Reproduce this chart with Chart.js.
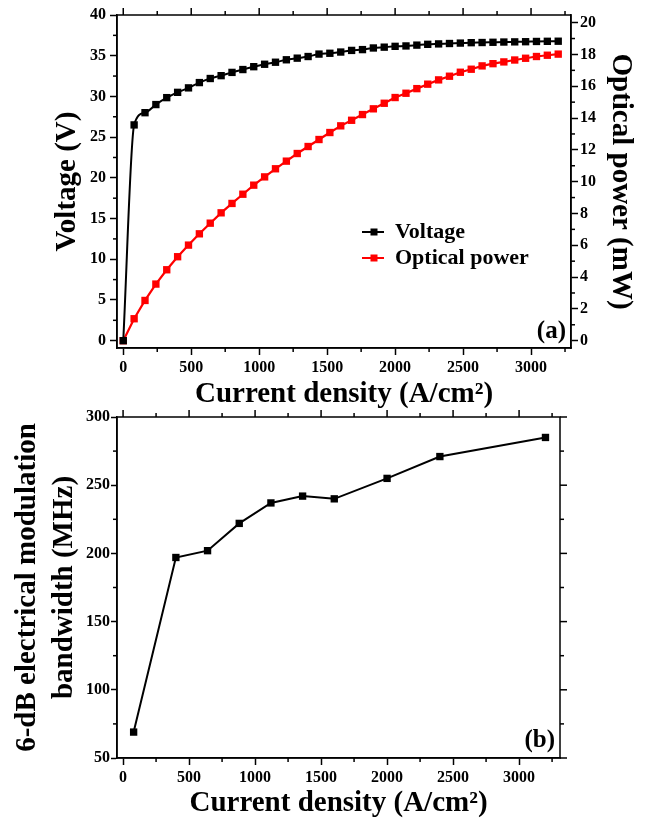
<!DOCTYPE html>
<html>
<head>
<meta charset="utf-8">
<script src="https://cdn.jsdelivr.net/npm/chart.js@4.4.0/dist/chart.umd.min.js"></script>
<style>
html,body{margin:0;padding:0;background:#fff;width:650px;height:821px;overflow:hidden}
#wrapA{position:absolute;left:0;top:0;width:650px;height:412px}
#wrapB{position:absolute;left:0;top:402px;width:650px;height:419px}
canvas{display:block}
</style>
</head>
<body>
<div id="wrapA"><canvas id="cA" width="650" height="412"></canvas></div>
<div id="wrapB"><canvas id="cB" width="650" height="419"></canvas></div>
<script>
// ---------- data ----------
const currentDensity = [0,80,160,240,320,400,480,560,640,720,800,880,960,1040,1120,1200,1280,1360,1440,1520,1600,1680,1760,1840,1920,2000,2080,2160,2240,2320,2400,2480,2560,2640,2720,2800,2880,2960,3040,3120,3200];
const voltage = [0,26.5,28.0,29.0,29.85,30.5,31.05,31.7,32.2,32.55,32.95,33.3,33.65,33.95,34.2,34.5,34.7,34.9,35.2,35.3,35.45,35.65,35.75,35.95,36.05,36.15,36.2,36.3,36.4,36.45,36.5,36.55,36.6,36.62,36.65,36.68,36.7,36.72,36.75,36.77,36.78];
const opticalPower = [0,1.38,2.53,3.56,4.46,5.28,6.01,6.72,7.39,8.04,8.63,9.21,9.78,10.3,10.81,11.29,11.77,12.21,12.65,13.09,13.51,13.86,14.22,14.58,14.93,15.29,15.56,15.85,16.13,16.4,16.63,16.88,17.07,17.28,17.42,17.53,17.65,17.76,17.87,17.95,18.02];
const bwCurrent = [80,400,640,880,1120,1360,1600,2000,2400,3200];
const bandwidth = [69,197,202,222,237,242,240,255,271,285];

const xTicks = [0,500,1000,1500,2000,2500,3000];
const voltageTicks = [0,5,10,15,20,25,30,35,40];
const powerTicks = [0,2,4,6,8,10,12,14,16,18,20];
const bwTicks = [50,100,150,200,250,300];

const labels = {
  x: 'Current density (A/cm\u00B2)',
  voltage: 'Voltage (V)',
  power: 'Optical power (mW)',
  bw: ['6-dB electrical modulation', 'bandwidth (MHz)'],
  series: ['Voltage', 'Optical power'],
  panelA: '(a)',
  panelB: '(b)'
};

// ---------- helpers ----------
const FAMILY = '"Liberation Serif", "Times New Roman", serif';
const tickFont = {family: FAMILY, weight: 'bold', size: 16};
const titleFont = {family: FAMILY, weight: 'bold', size: 29, lineHeight: 1.2};
const plainNumber = v => String(v);

function fixedTicks(values) {
  return function (scale) { scale.ticks = values.map(v => ({value: v})); };
}
function gridOpts(len) {
  return {display: true, drawOnChartArea: false, drawTicks: true, tickLength: len, tickWidth: 1.5, tickColor: '#000', color: '#000'};
}
const borderOpts = {display: true, color: '#000', width: 1.5};

// frame + minor / mirrored ticks, positioned through the chart's scales
const frameTicks = {
  id: 'frameTicks',
  afterDraw(chart, args, o) {
    const {ctx, chartArea: a} = chart;
    ctx.save();
    ctx.strokeStyle = '#000';
    ctx.lineWidth = 1.5;
    ctx.strokeRect(a.left, a.top, a.right - a.left, a.bottom - a.top);
    (o.axes || []).forEach(ax => {
      const s = chart.scales[ax.scale];
      const minors = [];
      ax.majors.forEach(v => {
        [v - ax.minorStep, v + ax.minorStep].forEach(m => {
          if (m >= s.min && m <= s.max && !ax.majors.includes(m) && !minors.includes(m)) minors.push(m);
        });
      });
      ax.sides.forEach(sd => {
        const list = [];
        if (sd.major) ax.majors.forEach(v => list.push([v, o.majorLen]));
        minors.forEach(v => list.push([v, o.minorLen]));
        list.forEach(([v, len]) => {
          const p = s.getPixelForValue(v);
          ctx.beginPath();
          if (sd.side === 'top') { ctx.moveTo(p, a.top); ctx.lineTo(p, a.top - len); }
          else if (sd.side === 'bottom') { ctx.moveTo(p, a.bottom); ctx.lineTo(p, a.bottom + len); }
          else if (sd.side === 'left') { ctx.moveTo(a.left, p); ctx.lineTo(a.left - len, p); }
          else { ctx.moveTo(a.right, p); ctx.lineTo(a.right + len, p); }
          ctx.stroke();
        });
      });
    });
    ctx.restore();
  }
};

// legend inside the plot area
const innerLegend = {
  id: 'innerLegend',
  afterDatasetsDraw(chart, args, o) {
    if (!o || !o.display) return;
    const {ctx, chartArea: a} = chart;
    ctx.save();
    ctx.font = 'bold ' + o.size + 'px ' + FAMILY;
    ctx.textBaseline = 'middle';
    ctx.textAlign = 'left';
    chart.data.datasets.forEach((ds, i) => {
      const y = a.top + o.top + i * o.rowGap;
      const x0 = a.left + o.left;
      ctx.strokeStyle = ds.borderColor;
      ctx.lineWidth = 2;
      ctx.beginPath(); ctx.moveTo(x0, y); ctx.lineTo(x0 + o.lineLen, y); ctx.stroke();
      ctx.fillStyle = ds.pointBackgroundColor;
      ctx.fillRect(x0 + o.markerX - o.marker / 2, y - o.marker / 2, o.marker, o.marker);
      ctx.fillStyle = '#000';
      ctx.fillText(ds.label, x0 + o.lineLen + o.gap, y);
    });
    ctx.restore();
  }
};

// panel tag "(a)" / "(b)"
const panelTag = {
  id: 'panelTag',
  afterDatasetsDraw(chart, args, o) {
    if (!o || !o.text) return;
    const {ctx, chartArea: a} = chart;
    ctx.save();
    ctx.font = 'bold ' + o.size + 'px ' + FAMILY;
    ctx.fillStyle = '#000';
    ctx.textAlign = 'right';
    ctx.textBaseline = 'alphabetic';
    ctx.fillText(o.text, a.right - o.right, a.bottom - o.bottom);
    ctx.restore();
  }
};

// ---------- chart (a) ----------
new Chart(document.getElementById('cA'), {
  type: 'line',
  data: {
    datasets: [
      {
        label: labels.series[0],
        data: currentDensity.map((x, i) => ({x: x, y: voltage[i]})),
        yAxisID: 'y',
        borderColor: '#000',
        backgroundColor: '#000',
        pointBackgroundColor: '#000',
        borderWidth: 2,
        pointStyle: 'rect',
        pointRadius: 5.2,
        pointBorderWidth: 0,
        cubicInterpolationMode: 'monotone'
      },
      {
        label: labels.series[1],
        data: currentDensity.map((x, i) => ({x: x, y: opticalPower[i]})),
        yAxisID: 'y2',
        borderColor: '#ff0000',
        backgroundColor: '#ff0000',
        pointBackgroundColor: '#ff0000',
        borderWidth: 2.2,
        pointStyle: 'rect',
        pointRadius: 5.2,
        pointBorderWidth: 0,
        tension: 0
      }
    ]
  },
  options: {
    responsive: false,
    animation: false,
    devicePixelRatio: 1,
    layout: {padding: {top: 15, left: 0, right: 0, bottom: 0}},
    plugins: {
      legend: {display: false},
      tooltip: {enabled: false},
      innerLegend: {display: true, size: 22, left: 245, top: 217, rowGap: 26, lineLen: 22, marker: 7, markerX: 12, gap: 11},
      panelTag: {text: labels.panelA, size: 25, right: 5, bottom: 10},
      frameTicks: {
        majorLen: 7, minorLen: 4,
        axes: [
          {scale: 'x', majors: xTicks, minorStep: 250, sides: [{side: 'bottom', major: false}, {side: 'top', major: true}]},
          {scale: 'y', majors: voltageTicks, minorStep: 2.5, sides: [{side: 'left', major: false}]},
          {scale: 'y2', majors: powerTicks, minorStep: 1, sides: [{side: 'right', major: false}]}
        ]
      }
    },
    scales: {
      x: {
        type: 'linear', position: 'bottom', min: -46, max: 3294,
        afterBuildTicks: fixedTicks(xTicks),
        afterFit: s => { s.height = 64; },
        grid: gridOpts(7), border: borderOpts,
        ticks: {font: tickFont, color: '#000', padding: 3, maxRotation: 0, autoSkip: false, callback: plainNumber},
        title: {display: true, text: labels.x, font: titleFont, color: '#000', padding: {top: 0, bottom: 0}}
      },
      y: {
        type: 'linear', position: 'left', min: -0.9, max: 40,
        afterBuildTicks: fixedTicks(voltageTicks),
        afterFit: s => { s.width = 117; },
        grid: gridOpts(7), border: borderOpts,
        ticks: {font: tickFont, color: '#000', padding: 4, autoSkip: false, callback: plainNumber},
        title: {display: true, text: labels.voltage, font: titleFont, color: '#000', padding: {top: 50, bottom: 0}}
      },
      y2: {
        type: 'linear', position: 'right', min: -0.46, max: 20.48,
        afterBuildTicks: fixedTicks(powerTicks),
        afterFit: s => { s.width = 79; },
        grid: gridOpts(7), border: borderOpts,
        ticks: {font: tickFont, color: '#000', padding: 2, autoSkip: false, callback: plainNumber},
        title: {display: true, text: labels.power, font: titleFont, color: '#000', padding: {top: 12.6, bottom: 0}}
      }
    }
  },
  plugins: [frameTicks, innerLegend, panelTag]
});

// ---------- chart (b) ----------
new Chart(document.getElementById('cB'), {
  type: 'line',
  data: {
    datasets: [
      {
        label: 'bandwidth',
        data: bwCurrent.map((x, i) => ({x: x, y: bandwidth[i]})),
        borderColor: '#000',
        backgroundColor: '#000',
        pointBackgroundColor: '#000',
        borderWidth: 2,
        pointStyle: 'rect',
        pointRadius: 5.2,
        pointBorderWidth: 0,
        tension: 0
      }
    ]
  },
  options: {
    responsive: false,
    animation: false,
    devicePixelRatio: 1,
    layout: {padding: {top: 15, left: 0, right: 90, bottom: 0}},
    plugins: {
      legend: {display: false},
      tooltip: {enabled: false},
      panelTag: {text: labels.panelB, size: 25, right: 5, bottom: 11},
      frameTicks: {
        majorLen: 7, minorLen: 4,
        axes: [
          {scale: 'x', majors: xTicks, minorStep: 250, sides: [{side: 'bottom', major: false}, {side: 'top', major: true}]},
          {scale: 'y', majors: bwTicks, minorStep: 25, sides: [{side: 'left', major: false}, {side: 'right', major: true}]}
        ]
      }
    },
    scales: {
      x: {
        type: 'linear', position: 'bottom', min: -46, max: 3310,
        afterBuildTicks: fixedTicks(xTicks),
        afterFit: s => { s.height = 63; },
        grid: gridOpts(7), border: borderOpts,
        ticks: {font: tickFont, color: '#000', padding: 3, maxRotation: 0, autoSkip: false, callback: plainNumber},
        title: {display: true, text: labels.x, font: titleFont, color: '#000', padding: {top: 0, bottom: 0}}
      },
      y: {
        type: 'linear', position: 'left', min: 50, max: 300,
        afterBuildTicks: fixedTicks(bwTicks),
        afterFit: s => { s.width = 117; },
        grid: gridOpts(6), border: borderOpts,
        ticks: {font: tickFont, color: '#000', padding: 1, autoSkip: false, callback: plainNumber},
        title: {display: true, text: labels.bw, font: {family: FAMILY, weight: 'bold', size: 29, lineHeight: 1.276}, color: '#000', padding: {top: 9.5, bottom: 0}}
      }
    }
  },
  plugins: [frameTicks, panelTag]
});
</script>
</body>
</html>
